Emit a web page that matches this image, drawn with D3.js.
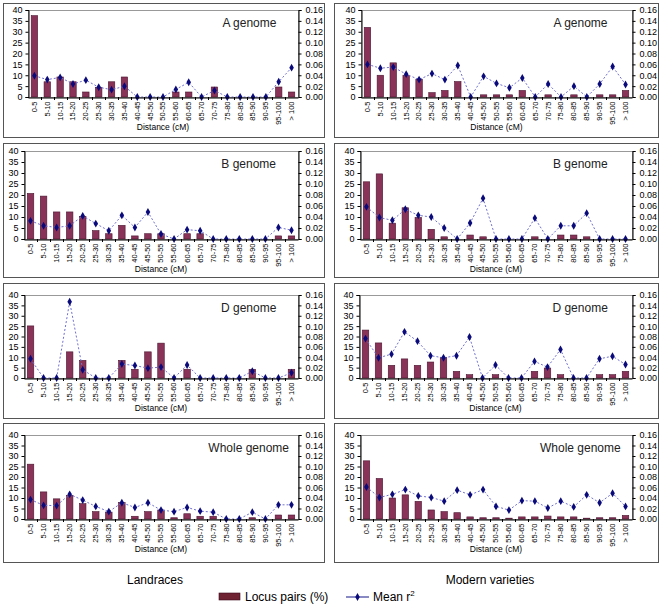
<!DOCTYPE html>
<html><head><meta charset="utf-8">
<script src="https://cdn.jsdelivr.net/npm/d3@7"></script>
<style>body{margin:0;background:#fff}svg{display:block}text{font-family:"Liberation Sans",Arial,sans-serif}</style>
</head><body><svg id="c" width="661" height="607"></svg>
<script>
const categories = ["0-5","5-10","10-15","15-20","20-25","25-30","30-35","35-40","40-45","45-50","50-55","55-60","60-65","65-70","70-75","75-80","80-85","85-90","90-95","95-100","> 100"];
const leftTicks = [0,5,10,15,20,25,30,35,40];
const rightTicks = [0,0.02,0.04,0.06,0.08,0.10,0.12,0.14,0.16];
const panelTitles = ["A genome","B genome","D genome","Whole genome"];
const columnTitles = ["Landraces","Modern varieties"];

const landA_pairs = [37.4,7,9.2,7,2.3,4.4,7,9.2,0,0,0,2.3,2.3,0,4.6,0,0,0,0,4.6,2.3];
const landA_r2 = [0.039,0.032,0.036,0.024,0.031,0.018,0.0135,0.0197,0,0,0,0.014,0.027,0,0.012,0,0,0,0,0.028,0.054];
const modA_pairs = [32,10,15.7,10,8.2,2,3,7.1,0,1,1,1,3,0,1,0,1,0,1,1,3];
const modA_r2 = [0.06,0.053,0.055,0.042,0.032,0.043,0.032,0.058,0,0.038,0.025,0.017,0.035,0,0.024,0,0.02,0,0.024,0.056,0.023];
const landB_pairs = [20.7,19.5,12.3,12.3,10.3,3.8,2.4,6.2,1.4,2.4,2.4,0,2.4,2.4,0,0,0,0,0,1.4,1.4];
const landB_r2 = [0.033,0.024,0.021,0.024,0.042,0.028,0.015,0.043,0.021,0.049,0.009,0,0.017,0.015,0,0,0,0,0,0.021,0.016];
const modB_pairs = [26,29.6,7.2,14.2,9.8,4.4,1,0,1.8,1,0,0,0,1,0,1.8,1.8,1,0,0,0];
const modB_r2 = [0.0585,0.039,0.034,0.054,0.043,0.040,0.020,0,0.029,0.074,0,0,0,0.038,0,0.024,0.024,0.047,0,0,0];
const landD_pairs = [25.1,0,0,12.6,8.5,0,0,8.5,4.2,12.6,16.8,0,4.2,0,0,0,0,4.2,0,0,4.2];
const landD_r2 = [0.037,0,0,0.147,0.016,0,0,0.027,0.024,0.019,0.021,0,0.025,0,0,0,0,0.013,0,0,0.010];
const modD_pairs = [23.1,16.9,6.1,9.2,6.1,7.7,9.8,3.2,1.6,0,1.6,0,0,3.2,4.8,1.6,0,0,1.6,1.6,3.2];
const modD_r2 = [0.076,0.039,0.046,0.089,0.071,0.043,0.039,0.043,0.079,0,0.025,0,0,0.032,0.021,0.055,0,0,0.037,0.042,0.026];
const landW_pairs = [26.1,12.9,9.6,11.3,7.3,3.5,3.3,7.8,1.3,3.5,4.3,0.6,2.5,1.3,1.3,0,0,0.6,0,1.9,1.9];
const landW_r2 = [0.037,0.026,0.0255,0.047,0.036,0.024,0.014,0.031,0.022,0.031,0.017,0.014,0.022,0.015,0.013,0,0,0.013,0,0.027,0.027];
const modW_pairs = [27.7,19.3,10,11.5,8.4,4.3,3.5,3,1,0.6,0.6,0.4,1,1,1.4,1,1,0.4,0.6,0.6,1.7];
const modW_r2 = [0.061,0.041,0.047,0.056,0.044,0.041,0.034,0.055,0.046,0.056,0.024,0.017,0.035,0.034,0.021,0.034,0.023,0.046,0.031,0.049,0.024];

const pairsByPanel = [[landA_pairs,modA_pairs],[landB_pairs,modB_pairs],[landD_pairs,modD_pairs],[landW_pairs,modW_pairs]];
const r2ByPanel = [[landA_r2,modA_r2],[landB_r2,modB_r2],[landD_r2,modD_r2],[landW_r2,modW_r2]];

// layout
const rowBox = [[3,137],[143,277],[283,418],[423,562]];
const rowPlot = [[10,97],[151,239],[295,378],[435,519]];
const colBox = [[3,324],[334,658]];
const colPlot = [[[28,298],[24,298],[24,298],[24,298]],[[361,632],[360,632],[359,632],[360,632]]];

const BAR = "#8a3358", BAR_EDGE = "#4a1430", LINE = "#7070d0", MARK = "#0a0a7a";
const svg = d3.select("#c");

for (let r = 0; r < 4; r++) {
  for (let c = 0; c < 2; c++) {
    const [bx0,bx1] = colBox[c], [by0,by1] = rowBox[r];
    const [px0,px1] = colPlot[c][r], [py0,py1] = rowPlot[r];
    svg.append("rect").attr("x",bx0+0.5).attr("y",by0+0.5).attr("width",bx1-bx0).attr("height",by1-by0)
      .attr("fill","#fff").attr("stroke","#555").attr("stroke-width",1);
    const g = svg.append("g");
    const x = d3.scaleBand().domain(categories).range([px0,px1]).paddingInner(0.5).paddingOuter(0.25);
    const xb = d3.scaleBand().domain(categories).range([px0,px1]);
    const yL = d3.scaleLinear().domain([0,40]).range([py1,py0]);
    const yR = d3.scaleLinear().domain([0,0.16]).range([py1,py0]);
    g.append("rect").attr("x",px0+0.5).attr("y",py0+0.5).attr("width",px1-px0).attr("height",py1-py0)
      .attr("fill","none").attr("stroke","#999");
    const pairs = pairsByPanel[r][c], r2 = r2ByPanel[r][c];
    g.selectAll("rect.bar").data(categories).enter().append("rect").attr("class","bar")
      .attr("x",d=>x(d)).attr("width",x.bandwidth())
      .attr("y",(d,i)=>yL(pairs[i])).attr("height",(d,i)=>py1-yL(pairs[i]))
      .attr("fill",BAR).attr("stroke",BAR_EDGE).attr("stroke-width",0.6);
    const line = d3.line().x((d,i)=>xb(categories[i])+xb.bandwidth()/2).y(d=>yR(d));
    g.append("path").attr("d",line(r2)).attr("fill","none").attr("stroke",LINE).attr("stroke-width",1).attr("stroke-dasharray","2,2");
    g.selectAll("path.mk").data(r2).enter().append("path").attr("class","mk")
      .attr("d",d3.symbol(d3.symbolDiamond,18)())
      .attr("transform",(d,i)=>`translate(${xb(categories[i])+xb.bandwidth()/2},${yR(d)})`)
      .attr("fill",MARK);
    // axes
    const aL = g.append("g").attr("transform",`translate(${px0+0.5},0)`)
      .call(d3.axisLeft(yL).tickValues(leftTicks).tickSize(3).tickPadding(3).tickFormat(d3.format("d")));
    const aR = g.append("g").attr("transform",`translate(${px1+0.5},0)`)
      .call(d3.axisRight(yR).tickValues(rightTicks).tickSize(3).tickPadding(4).tickFormat(d3.format(".2f")));
    const aB = g.append("g").attr("transform",`translate(0,${py1+0.5})`)
      .call(d3.axisBottom(xb).tickSize(0).tickPadding(0));
    [aL,aR].forEach(a=>{a.select(".domain").attr("stroke","#000");a.selectAll("line").attr("stroke","#000");
      a.selectAll("text").attr("font-size",9).attr("fill","#000").attr("font-family",'"Liberation Sans",Arial,sans-serif');});
    aB.select(".domain").attr("stroke","#000");
    aB.selectAll("text").attr("font-size",7.5).attr("fill","#000").attr("font-family",'"Liberation Sans",Arial,sans-serif')
      .attr("transform","rotate(-90)").attr("text-anchor","end").attr("x",-4).attr("y",0).attr("dy","0.32em");
    g.selectAll("line.bt").data(categories.slice(1)).enter().append("line").attr("class","bt")
      .attr("x1",d=>Math.round(xb(d))+0.5).attr("x2",d=>Math.round(xb(d))+0.5).attr("y1",py1).attr("y2",py1+3).attr("stroke","#000");
    g.append("text").attr("x",(px0+px1)/2).attr("y",py1+33).attr("text-anchor","middle").attr("font-size",8.5).text("Distance (cM)");
    g.append("text").attr("x",px0+(px1-px0)*(c?0.81:0.82)).attr("y",py0+17).attr("text-anchor","middle").attr("font-size",12).attr("fill","#222").text(panelTitles[r]);
  }
}
svg.append("text").attr("x",155).attr("y",584).attr("text-anchor","middle").attr("font-size",12).text(columnTitles[0]);
svg.append("text").attr("x",490).attr("y",584).attr("text-anchor","middle").attr("font-size",12).text(columnTitles[1]);
// legend
svg.append("rect").attr("x",219).attr("y",593).attr("width",21).attr("height",7).attr("fill","#6e2232").attr("stroke","#3a0d18").attr("stroke-width",0.6);
svg.append("text").attr("x",245).attr("y",601).attr("font-size",12).text("Locus pairs (%)");
svg.append("line").attr("x1",346).attr("x2",369).attr("y1",597).attr("y2",597).attr("stroke","#3a3a9a").attr("stroke-width",1.2);
svg.append("path").attr("d",d3.symbol(d3.symbolDiamond,18)()).attr("transform","translate(357.5,597)").attr("fill",MARK);
const lt = svg.append("text").attr("x",373).attr("y",601).attr("font-size",12).text("Mean r");
lt.append("tspan").attr("font-size",8).attr("dy",-5).text("2");
</script></body></html>
